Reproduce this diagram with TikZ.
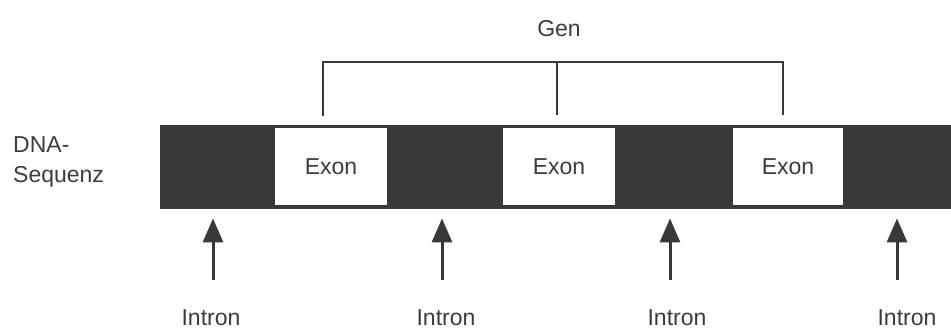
\documentclass[tikz,border=0pt]{standalone}
\usepackage{fontspec}
\setmainfont{Liberation Sans}
\usetikzlibrary{arrows.meta}
\definecolor{ink}{HTML}{3A3939}
\definecolor{txt}{HTML}{3C3C3C}
\begin{document}
\begin{tikzpicture}[x=1pt,y=-1pt,
  font=\fontsize{23}{30}\selectfont,
  lbl/.style={inner sep=0pt, text=txt},
  exonbox/.style={fill=white, inner sep=0pt, minimum height=77pt, text=txt},
  brk/.style={draw=ink, line width=2.8pt},
  arr/.style={draw=ink, line width=3pt, -{Triangle[length=24pt,width=20pt]}}]
\useasboundingbox (0,0) rectangle (951,329);
% DNA bar
\node[fill=ink, inner sep=0pt, minimum width=791pt, minimum height=84pt, anchor=north west] (bar) at (160,125) {};
\node[exonbox, minimum width=112pt] (e1) at (331,166.5) {Exon};
\node[exonbox, minimum width=112pt] (e2) at (559,166.5) {Exon};
\node[exonbox, minimum width=110pt] (e3) at (788,166.5) {Exon};
% left label
\node[lbl, anchor=base west] (dna1) at (13,152) {DNA-};
\node[lbl, anchor=base west] (dna2) at (13,182) {Sequenz};
% gene bracket
\node[lbl, anchor=base] (gen) at (559,37) {Gen};
\coordinate (gl) at (323,62);
\coordinate (gm) at (557,62);
\coordinate (gr) at (783,62);
\draw[brk, shorten <=9pt, shorten >=10pt] (gl |- bar.north) -- (gl) -- (gr) -- (gr |- bar.north);
\draw[brk, shorten >=10pt] (gm) -- (gm |- bar.north);
% introns
\node[lbl, anchor=base] (l1) at (211,325) {Intron};
\node[lbl, anchor=base] (l2) at (446,325) {Intron};
\node[lbl, anchor=base] (l3) at (677,325) {Intron};
\node[lbl, anchor=base] (l4) at (907,325) {Intron};
\coordinate (t1) at (213,280);
\coordinate (t2) at (442,280);
\coordinate (t3) at (670,280);
\coordinate (t4) at (897,280);
\foreach \t in {t1,t2,t3,t4}
  \draw[arr, shorten >=9pt] (\t) -- (\t |- bar.south);
\end{tikzpicture}
\end{document}
